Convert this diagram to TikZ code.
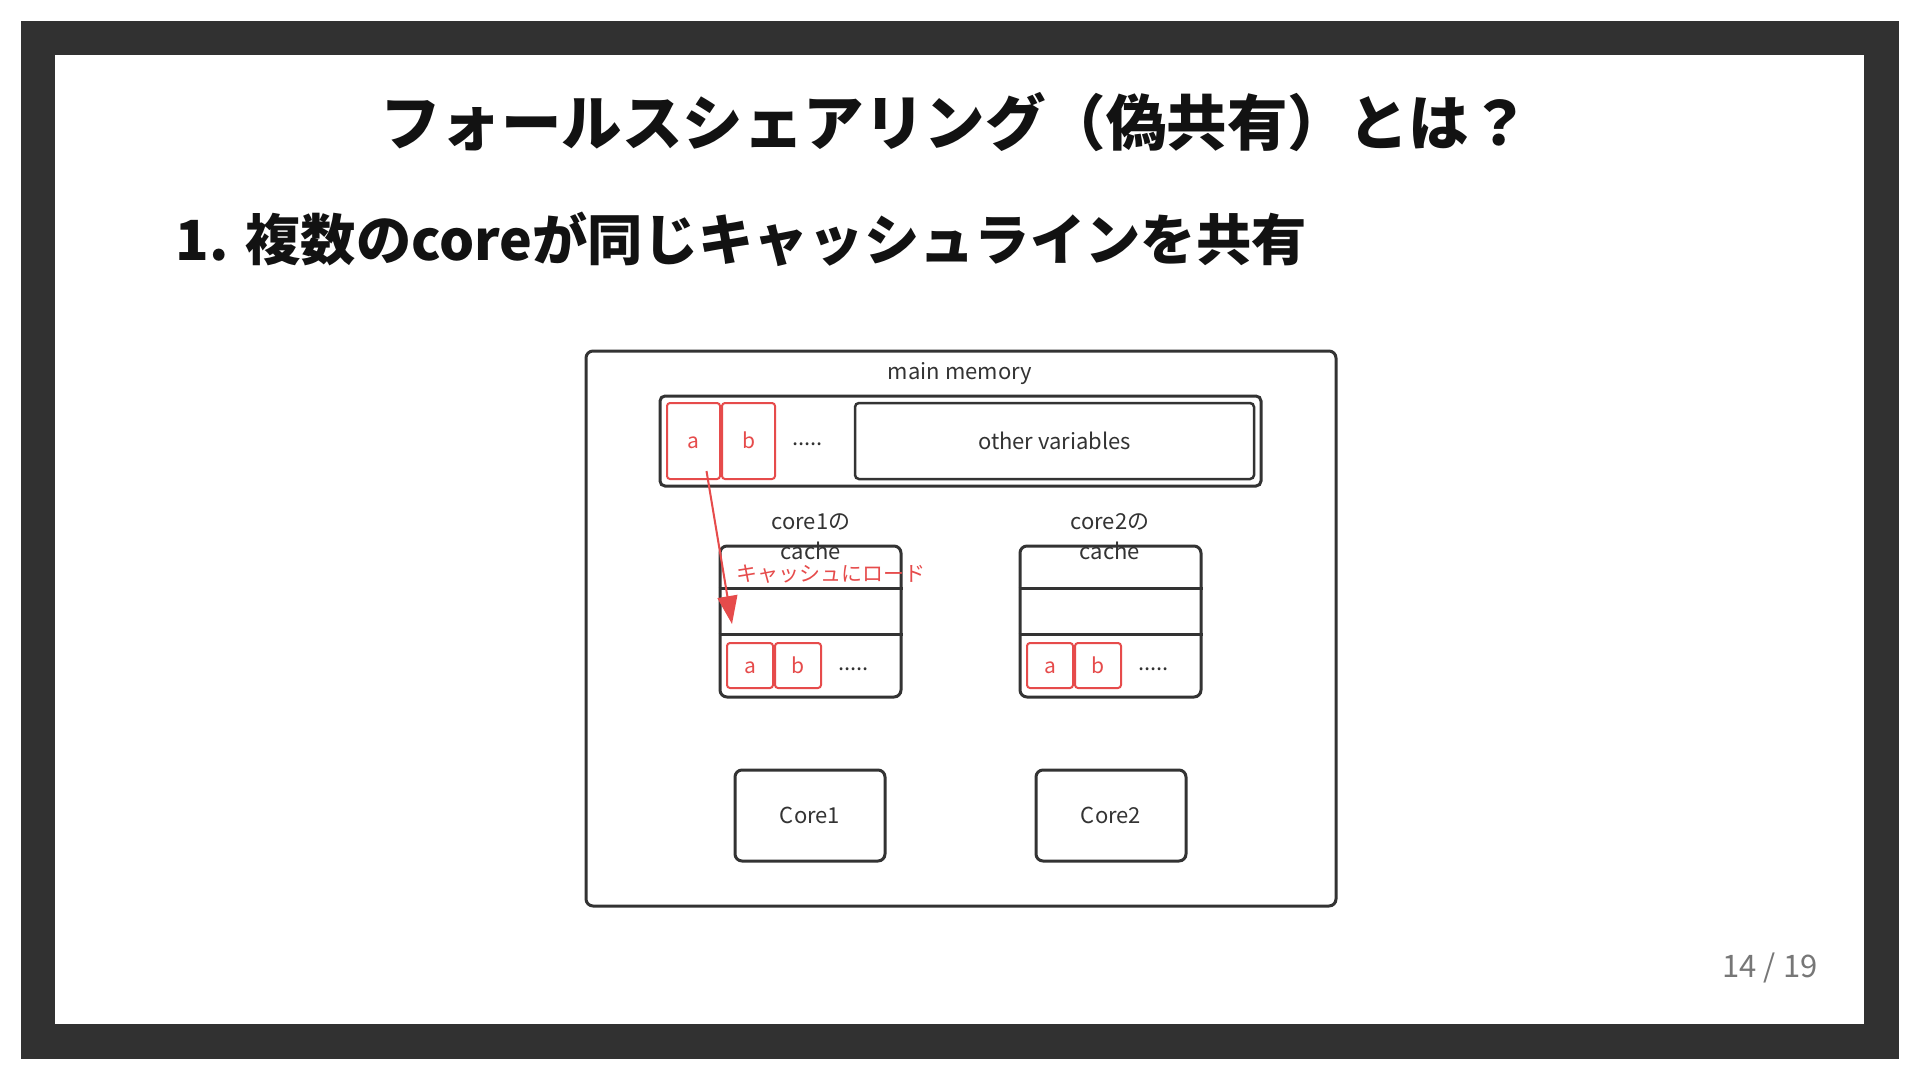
\documentclass[tikz,border=0pt]{standalone}
\usepackage{fontspec}
\setmainfont{Noto Sans CJK JP}
\usetikzlibrary{positioning,arrows.meta}
\definecolor{ink}{HTML}{333333}
\definecolor{framegray}{HTML}{313131}
\definecolor{loadred}{HTML}{E64B4B}
\definecolor{pagegray}{HTML}{777777}
\tikzset{box/.style={draw=ink,line width=3pt,rounded corners=7pt,inner sep=0pt},
	 varcell/.style={draw=loadred,line width=2pt,rounded corners=3pt,inner sep=0pt,
	   text=loadred,font=\fontsize{21}{24}\selectfont,text height=15pt,text depth=0pt},
	 lbl/.style={text=ink,inner sep=0pt,font=\fontsize{22}{30}\selectfont},
	 node distance = 0pt
	 }

\begin{document}
\begin{tikzpicture}[x=1pt,y=-1pt]% false sharing slide
        \useasboundingbox (0,0) rectangle (1920,1080);
        \fill[white] (0,0) rectangle (1920,1080);
        \fill[framegray] (21,21) rectangle (1899,1059);
        \fill[white] (55,55) rectangle (1864,1024);
        \node (title) at (955,122) [font=\fontsize{60.5}{70}\bfseries, text=black!93] {フォールスシェアリング（偽共有）とは？};
        \node (sub) at (172,239) [anchor=west, font=\fontsize{55.3}{66}\bfseries, text=black!93] {1. 複数のcoreが同じキャッシュラインを共有};
        \node (page) at (1770,968) [font=\fontsize{31}{36}\selectfont, text=pagegray] {14 / 19};
        % main memory
        \node[box, minimum width=750, minimum height=555] (mm) at (961,628.5) {};
        \node[lbl] (mmlabel) at (960,374) {main memory};
        \node[box, minimum width=601, minimum height=90, rounded corners=5pt] (row) at (960.5,441) {};
        \node[varcell, minimum width=53, minimum height=76] (ma) at (693.5,441) {a};
        \node[varcell, minimum width=53, minimum height=76] (mb) [right=of ma] {b};
        \node[lbl] (mdots) [right=16pt of mb, yshift=-3pt] {.....};
        \node[box, lbl, line width=2.5pt, rounded corners=4pt, minimum width=399, minimum height=76] (others) at (1054.5,441) {other variables};
        % caches
        \node[box, minimum width=181, minimum height=151] (c1) at (810.5,621.5) {};
        \node[lbl, align=center] (c1label) at (811,537) {core1の\\cache};
        \node[varcell, minimum width=46, minimum height=45] (c1a) at (750,665.5) {a};
        \node[varcell, minimum width=46, minimum height=45] (c1b) [right=of c1a] {b};
        \node[lbl] (c1dots) [right=16pt of c1b, yshift=-4pt] {.....};
        \draw[ink, line width=2.5pt] ([yshift=-44pt]c1.north west) -- ([yshift=-44pt]c1.north east);
        \draw[ink, line width=2.5pt] ([yshift=-90pt]c1.north west) -- ([yshift=-90pt]c1.north east);
        \node[box, minimum width=181, minimum height=151] (c2) at (1110.5,621.5) {};
        \node[lbl, align=center] (c2label) at (1110,537) {core2の\\cache};
        \node[varcell, minimum width=46, minimum height=45] (c2a) at (1050,665.5) {a};
        \node[varcell, minimum width=46, minimum height=45] (c2b) [right=of c2a] {b};
        \node[lbl] (c2dots) [right=16pt of c2b, yshift=-4pt] {.....};
        \draw[ink, line width=2.5pt] ([yshift=-44pt]c2.north west) -- ([yshift=-44pt]c2.north east);
        \draw[ink, line width=2.5pt] ([yshift=-90pt]c2.north west) -- ([yshift=-90pt]c2.north east);
        % cores
        \node[box, lbl, minimum width=150, minimum height=91] (core1) at (810,815.5) {Core1};
        \node[box, lbl, minimum width=150, minimum height=91] (core2) at (1111,815.5) {Core2};
        % load into cache
        \node[lbl, text=loadred, font=\fontsize{21}{24}\selectfont] (load) at (736,574) [anchor=west] {キャッシュにロード};
        \coordinate (ldtip) at (732,624);
        \draw[-{Triangle[length=28pt,width=20pt]}, loadred, line width=2pt] ([xshift=13pt,yshift=-30pt]ma.center) -- (ldtip);
     \end{tikzpicture}
\end{document}
